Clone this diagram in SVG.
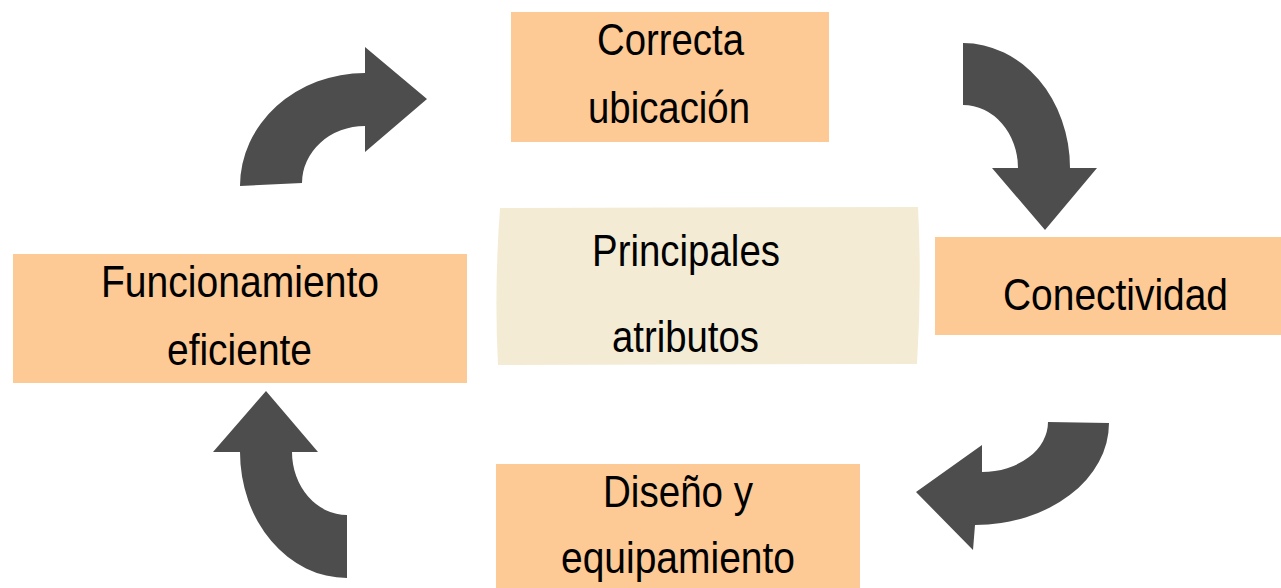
<svg xmlns="http://www.w3.org/2000/svg" width="1281" height="588" viewBox="0 0 1281 588">
<style>
.box{fill:#FDC995}
.center{fill:#F3EBD4}
.arrow{fill:#4D4D4D}
text{font-family:"Liberation Sans Narrow","Liberation Sans",Arial,sans-serif;font-size:44px;fill:#000}
</style>
<rect width="1281" height="588" fill="#FFFFFF"/>
<g id="connectors">
<path class="arrow" d="M240,186 A125,113 0 0 1 365,73 L365,47 L427,99 L365,152 L365,126 A63,57 0 0 0 302,183 Z"/>
<path class="arrow" d="M963,43 A107,125 0 0 1 1070,168 L1097,168 L1045,230 L992,168 L1018,168 A55,63 0 0 0 963,105 Z"/>
<path class="arrow" d="M1109,423 A134,102 0 0 1 975,525 L973,550 L916,492 L982,445 L982,472 A66,50 0 0 0 1048,422 Z"/>
<path class="arrow" d="M347,578 A107,126 0 0 1 240,452 L213,452 L266,391 L318,452 L292,452 A55,63 0 0 0 347,515 Z"/>
</g>
<g id="node-center">
<path class="center" d="M500,208 L918,207 Q922,285 917,364 L498,365 Q494,290 500,208 Z"/>
<text x="592" y="266" textLength="188" lengthAdjust="spacingAndGlyphs">Principales</text>
<text x="612" y="352" textLength="147" lengthAdjust="spacingAndGlyphs">atributos</text>
</g>
<g id="node-ubicacion">
<rect class="box" x="511" y="12" width="318" height="130"/>
<text x="597" y="55" textLength="147" lengthAdjust="spacingAndGlyphs">Correcta</text>
<text x="588" y="123" textLength="162" lengthAdjust="spacingAndGlyphs">ubicación</text>
</g>
<g id="node-conectividad">
<rect class="box" x="935" y="237" width="346" height="98"/>
<text x="1003" y="310" textLength="225" lengthAdjust="spacingAndGlyphs">Conectividad</text>
</g>
<g id="node-diseno">
<rect class="box" x="496" y="464" width="364" height="124"/>
<text x="603" y="507" textLength="150" lengthAdjust="spacingAndGlyphs">Diseño y</text>
<text x="561" y="573" textLength="234" lengthAdjust="spacingAndGlyphs">equipamiento</text>
</g>
<g id="node-funcionamiento">
<rect class="box" x="13" y="254" width="454" height="129"/>
<text x="101" y="297" textLength="278" lengthAdjust="spacingAndGlyphs">Funcionamiento</text>
<text x="167" y="365" textLength="145" lengthAdjust="spacingAndGlyphs">eficiente</text>
</g>
</svg>
